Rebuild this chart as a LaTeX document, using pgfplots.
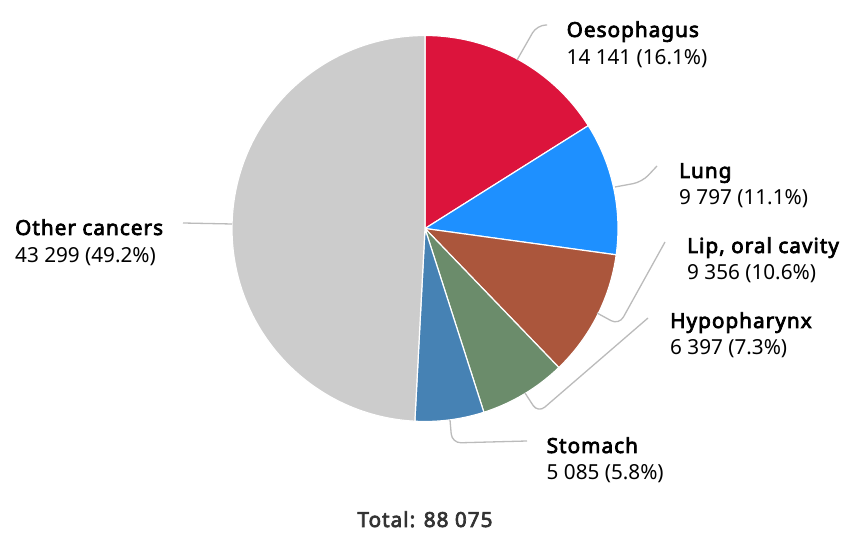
\documentclass[border=0pt]{standalone}
\usepackage{pgfplots}
\pgfplotsset{compat=1.18}
\usepackage{fontspec}
\setmainfont{Noto Sans}[BoldFont={Noto Sans},BoldFeatures={FakeBold=3.4,LetterSpace=5}]
\definecolor{oeso}{HTML}{DC143C}
\definecolor{lung}{HTML}{1E90FF}
\definecolor{lip}{HTML}{AB563C}
\definecolor{hypo}{HTML}{6B8C6B}
\definecolor{stom}{HTML}{4682B4}
\definecolor{other}{HTML}{CCCCCC}
\definecolor{conn}{HTML}{BBBBBB}
\begin{document}
\begin{tikzpicture}[lbl/.style={anchor=base west,inner sep=0pt,font=\fontsize{20.7}{24}\selectfont}]
\begin{axis}[width=843pt,height=540pt,scale only axis,xmin=0,xmax=843,ymin=0,ymax=540,
  hide axis,clip=false]
\path (axis cs:0,0) rectangle (axis cs:843,540);
\def\tot{88075}
\def\cx{425}
\def\cy{311.5}
\xdef\start{90}
\foreach \v/\c in {14141/oeso,9797/lung,9356/lip,6397/hypo,5085/stom,43299/other}{
  \pgfkeys{/pgf/fpu=true,/pgf/fpu/output format=fixed}
  \pgfmathsetmacro\endang{\start-\v/\tot*360}
  \pgfkeys{/pgf/fpu=false}
  \edef\temp{\noexpand\fill[\c,draw=white,line width=1.2pt,line join=round] (axis cs:\cx,\cy) -- ++(\start:193pt) arc[start angle=\start,end angle=\endang,radius=193pt] -- cycle;}
  \temp
  \xdef\start{\endang}
}
% connectors
\begin{scope}[conn,line width=1.3pt,rounded corners=9pt]
\draw (axis cs:517,480) -- (axis cs:537,515) -- (axis cs:547,515);
\draw (axis cs:615,353) -- (axis cs:642,358) -- (axis cs:657,374);
\draw (axis cs:597,227) -- (axis cs:619,215) -- (axis cs:665,298);
\draw (axis cs:525,147) -- (axis cs:538,127) -- (axis cs:648,222);
\draw (axis cs:450,120) -- (axis cs:452,97) -- (axis cs:527,99);
\draw (axis cs:183,317) -- (axis cs:232,316);
\end{scope}
% labels
\node[lbl] at (axis cs:566.5,503) {\bfseries Oesophagus};
\node[lbl] at (axis cs:566.5,475) {14 141 (16.1\%)};
\node[lbl] at (axis cs:679,362) {\bfseries Lung};
\node[lbl] at (axis cs:679,335) {9 797 (11.1\%)};
\node[lbl] at (axis cs:687,287) {\bfseries Lip, oral cavity};
\node[lbl] at (axis cs:687,260) {9 356 (10.6\%)};
\node[lbl] at (axis cs:670,212) {\bfseries Hypopharynx};
\node[lbl] at (axis cs:670,185) {6 397 (7.3\%)};
\node[lbl] at (axis cs:546.5,87) {\bfseries Stomach};
\node[lbl] at (axis cs:546.5,60) {5 085 (5.8\%)};
\node[lbl] at (axis cs:15,305) {\bfseries Other cancers};
\node[lbl] at (axis cs:15,277) {43 299 (49.2\%)};
\node[lbl,anchor=base,text=black!80] at (axis cs:425,13) {\bfseries Total: 88 075};
\end{axis}
\end{tikzpicture}
\end{document}
